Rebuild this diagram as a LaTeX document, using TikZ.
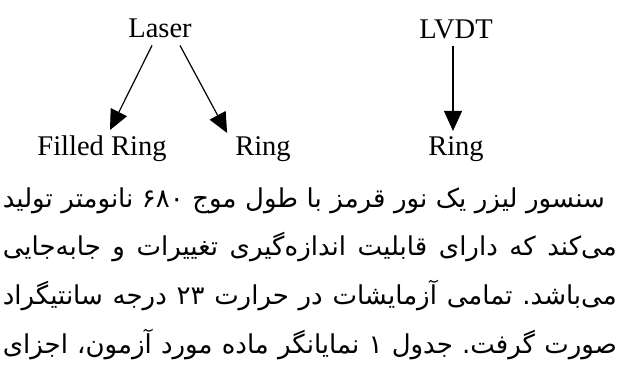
\documentclass[tikz,border=0pt]{standalone}
\usepackage{fontspec}
\setmainfont{Liberation Serif}
\newfontfamily\persianfont[Script=Arabic]{DejaVu Sans}
\TeXXeTstate=1
\usetikzlibrary{arrows.meta}

% one justified line of the paragraph
\newcommand{\rtlline}[2]{\hbox to #1{\persianfont\frenchspacing\spaceskip=0.2em plus 1fil\xspaceskip=\spaceskip #2}}

\begin{document}
\begin{tikzpicture}[x=1pt, y=-1pt,
    word/.style={inner sep=0pt, anchor=base, font=\fontsize{28.5}{30}\selectfont},
    textline/.style={inner sep=0pt, anchor=base east, font=\fontsize{26}{30}\selectfont},
    arr/.style={line width=1.2pt, -{Triangle[length=20pt,width=18pt]}}]
    \useasboundingbox (0,0) rectangle (621,386);

    % Sensors
    \node[word] (laser) at (160,37) {Laser};
    \node[word] (lvdt) at (456,38) {LVDT};

    % Specimens
    \node[word] (filled) at (102,155) {Filled Ring};
    \node[word] (ring) at (263,155) {Ring};
    \node[word] (ringb) at (456,155) {Ring};

    % Arrows
    \draw[arr] ([xshift=-8pt,yshift=-8pt]laser.south) -- ([xshift=8pt,yshift=5pt]filled.north);
    \draw[arr] ([xshift=20pt,yshift=-8pt]laser.south) -- ([xshift=-8pt,yshift=3pt]ring.north west);
    \draw[arr] ([xshift=-3pt,yshift=-7pt]lvdt.south) -- ([xshift=-3pt,yshift=5pt]ringb.north);

    % Paragraph
    \node[textline] (line1) at (605,207) {\rtlline{602pt}{\beginR سنسور لیزر یک نور قرمز با طول موج ۶۸۰ نانومتر تولید\endR}};
    \node[textline] (line2) at (617,255) {\rtlline{614pt}{\beginR می‌کند که دارای قابلیت اندازه‌گیری تغییرات و جابه‌جایی\endR}};
    \node[textline] (line3) at (617,304) {\rtlline{614pt}{\beginR می‌باشد. تمامی آزمایشات در حرارت ۲۳ درجه سانتیگراد\endR}};
    \node[textline] (line4) at (617,353) {\rtlline{614pt}{\beginR صورت گرفت. جدول ۱ نمایانگر ماده مورد آزمون، اجزای\endR}};
\end{tikzpicture}
\end{document}
